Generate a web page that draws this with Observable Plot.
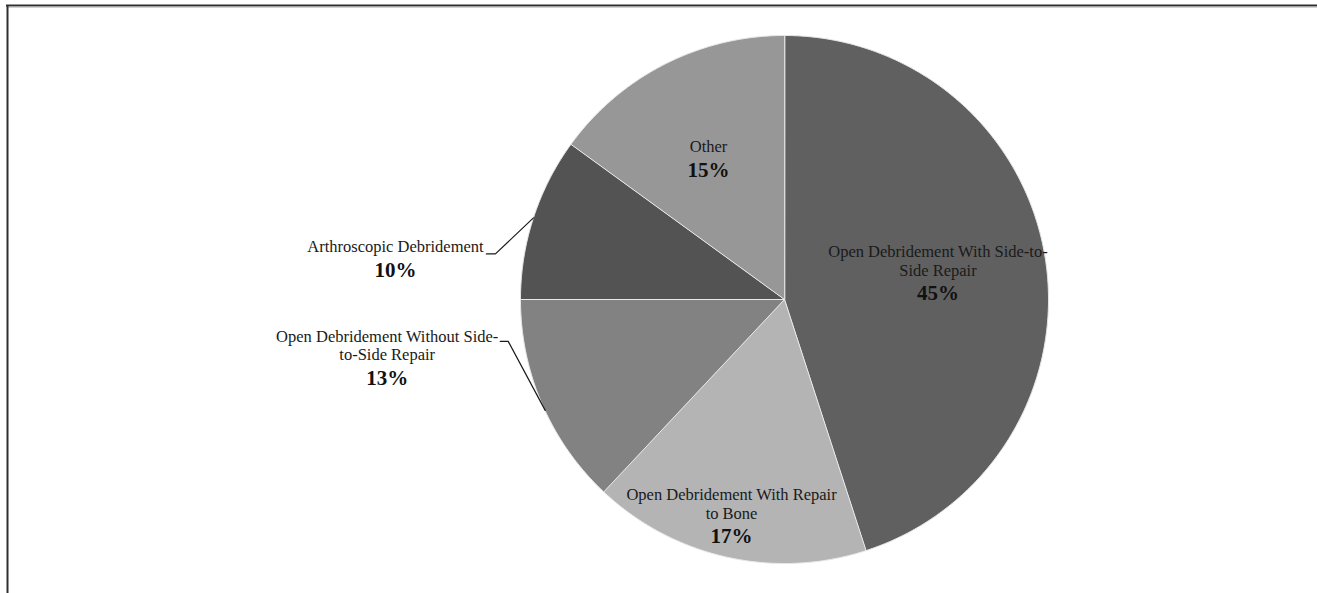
<!DOCTYPE html>
<html><head><meta charset="utf-8">
<script src="https://cdn.jsdelivr.net/npm/d3@7"></script>
<script src="https://cdn.jsdelivr.net/npm/@observablehq/plot@0.6"></script>
<style>
html,body{margin:0;padding:0;background:#fff;overflow:hidden;}
svg{display:block}
</style></head><body><div id="chart"></div>
<script>
// ---- data ----
const categories = [
  "Open Debridement With Side-to-Side Repair",
  "Open Debridement With Repair to Bone",
  "Open Debridement Without Side-to-Side Repair",
  "Arthroscopic Debridement",
  "Other"
];
const labelLines = [
  "Open Debridement With Side-to-\nSide Repair",
  "Open Debridement With Repair\nto Bone",
  "Open Debridement Without Side-\nto-Side Repair",
  "Arthroscopic Debridement",
  "Other"
];
const shares = [45, 17, 13, 10, 15];
const shades = ["#606060", "#b4b4b4", "#828282", "#535353", "#979797"];

// ---- layout (not data) ----
const W = 1317, H = 593, CX = 784, CY = 299, R = 264;
// inside labels: radial factor + pixel nudge; outside labels: pixel offset from edge point
const labelLayout = [
  {inside: true, f: 0.60, dx: -3, dy: 19},
  {inside: true, f: 0.92, dx: 0, dy: 0},
  {inside: false, tx: -155, ty: -26, leader: [[3, 6], [-34, -63], [-42, -63]]},
  {inside: false, tx: -138, ty: 52, leader: [[0, 0], [-38, 36], [-47, 36]]},
  {inside: true, f: 0.55, dx: -10, dy: 0}
];

const table = categories.map((c, i) => ({cat: c, label: labelLines[i], share: shares[i], shade: shades[i], lay: labelLayout[i]}));
const arcs = d3.pie().sort(null).value(d => d.share)(table);

const toU = (px, py) => ({x: (px - CX) / R, y: (CY - py) / R});
const marks = [];

// frame (top and left edges only)
const frameTop = toU(0, 5).y, frameLeft = toU(7, 0).x, frameBottom = toU(0, H + 5).y, frameRight = toU(W + 5, 0).x;
marks.push(Plot.ruleY([frameTop], {x1: toU(6, 0).x, x2: frameRight, stroke: "#303030", strokeWidth: 2}));
marks.push(Plot.ruleY([toU(0, 6.5).y], {x1: toU(8, 0).x, x2: frameRight, stroke: "#a8a8a8", strokeWidth: 1}));
marks.push(Plot.ruleX([frameLeft], {y1: frameTop, y2: frameBottom, stroke: "#303030", strokeWidth: 2}));

// slices
arcs.forEach(a => {
  const pts = [{x: 0, y: 0}];
  const n = Math.max(2, Math.ceil((a.endAngle - a.startAngle) / (Math.PI / 360)));
  for (let k = 0; k <= n; k++) {
    const t = a.startAngle + (a.endAngle - a.startAngle) * k / n;
    pts.push({x: Math.sin(t), y: Math.cos(t)});
  }
  marks.push(Plot.line(pts, {x: "x", y: "y", curve: "linear-closed", fill: a.data.shade, stroke: "#e8e8e8", strokeWidth: 1}));
});

// label anchors
const pctPts = [], namePts = [], leaders = [];
arcs.forEach(a => {
  const mid = (a.startAngle + a.endAngle) / 2;
  const L = a.data.lay;
  const ex = CX + R * Math.sin(mid), ey = CY - R * Math.cos(mid);
  let px, py;
  if (L.inside) {
    px = CX + L.f * R * Math.sin(mid) + L.dx;
    py = CY - L.f * R * Math.cos(mid) + L.dy;
  } else {
    px = ex + L.tx; py = ey + L.ty;
    L.leader.forEach(([ox, oy]) => leaders.push({...toU(ex + ox, ey + oy), cat: a.data.cat}));
  }
  const u = toU(px, py);
  pctPts.push({...u, text: a.data.share + "%"});
  namePts.push({...u, text: a.data.label});
});

const serif = "'Liberation Serif', 'Times New Roman', serif";
marks.push(Plot.line(leaders, {x: "x", y: "y", z: "cat", stroke: "#1a1a1a", strokeWidth: 1.2}));
marks.push(Plot.text(namePts, {x: "x", y: "y", text: "text", lineAnchor: "bottom", dy: -18, fontSize: 16.5, lineHeight: 1.12, fill: "#1a1a1a", fontFamily: serif}));
marks.push(Plot.text(pctPts, {x: "x", y: "y", text: "text", fontSize: 21, fontWeight: "bold", fill: "#111", fontFamily: serif}));

const chart = Plot.plot({
  width: W, height: H,
  margin: 0,
  x: {domain: [-1, 1], range: [CX - R, CX + R], axis: null},
  y: {domain: [-1, 1], range: [CY + R, CY - R], axis: null},
  style: {background: "#fff"},
  marks
});
document.getElementById("chart").appendChild(chart);
</script>
</body></html>
